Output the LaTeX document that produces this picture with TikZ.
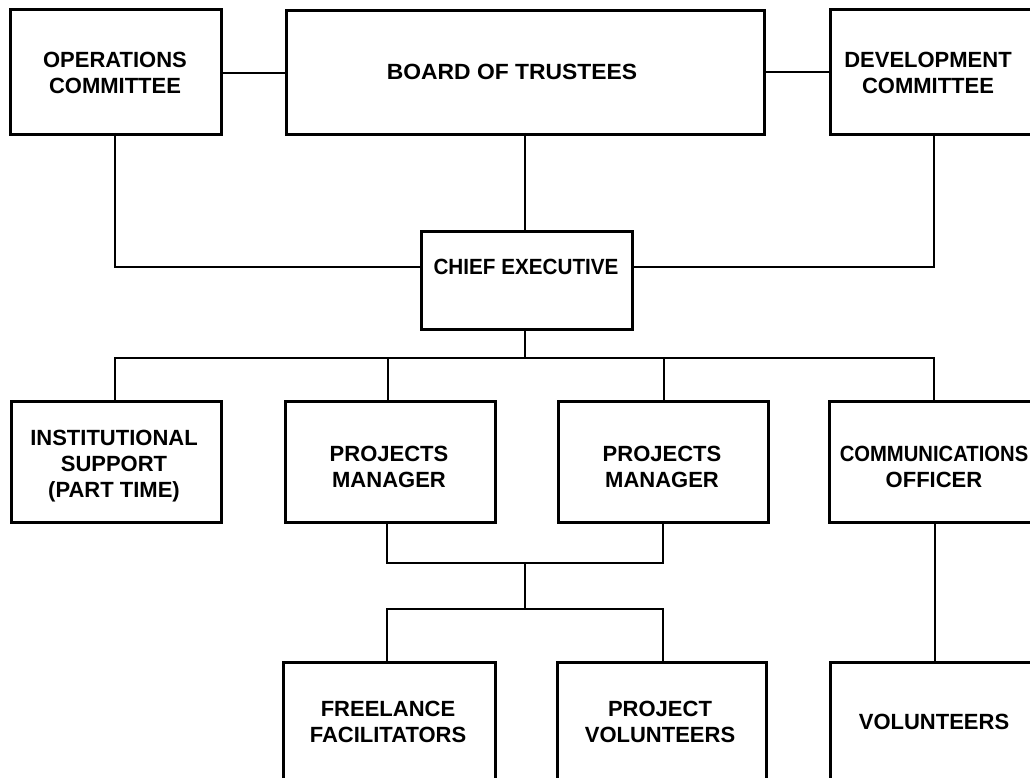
\documentclass[tikz,border=0pt]{standalone}
\usepackage{fontspec}
\setmainfont{Liberation Sans}
\begin{document}
\begin{tikzpicture}[x=1pt,y=-1pt,
  box/.style={draw=black, line width=2.6pt, rectangle, inner sep=0pt, anchor=north west},
  wire/.style={draw=black, line width=2.6pt},
  lbl/.style={font=\bfseries\fontsize{22}{26}\selectfont, align=center, inner sep=0pt, text=black}]
\useasboundingbox (0,0) rectangle (1030,778);
\fill[white] (0,0) rectangle (1030,778);
\clip (0,0) rectangle (1030,778);
% boxes
\node[box, minimum width=211pt, minimum height=125pt] (ops) at (9,8) {};
\node[box, minimum width=478pt, minimum height=124pt] (board) at (285,9) {};
\node[box, minimum width=211pt, minimum height=125pt] (dev) at (829,8) {};
\node[box, minimum width=211pt, minimum height=98pt] (ce) at (420,230) {};
\node[box, minimum width=210pt, minimum height=121pt] (inst) at (10,400) {};
\node[box, minimum width=210pt, minimum height=121pt] (pm1) at (284,400) {};
\node[box, minimum width=210pt, minimum height=121pt] (pm2) at (557,400) {};
\node[box, minimum width=212pt, minimum height=121pt] (comm) at (828,400) {};
\node[box, minimum width=212pt, minimum height=140pt] (ff) at (282,661) {};
\node[box, minimum width=209pt, minimum height=140pt] (pv) at (556,661) {};
\node[box, minimum width=211pt, minimum height=140pt] (vol) at (829,661) {};
% labels
\node[lbl] (ops-t) at (115,73) {OPERATIONS\\COMMITTEE};
\node[lbl] (board-t) at (512,72) {\scalebox{1.04}[1]{BOARD OF TRUSTEES}};
\node[lbl] (dev-t) at (928,73) {DEVELOPMENT\\COMMITTEE};
\node[lbl] (ce-t) at (526,267) {\scalebox{0.94}[1]{CHIEF EXECUTIVE}};
\node[lbl] (inst-t) at (114,466) {INSTITUTIONAL\\SUPPORT\\(PART TIME)};
\node[lbl] (pm1-t) at (389,467) {PROJECTS\\MANAGER};
\node[lbl] (pm2-t) at (662,467) {PROJECTS\\MANAGER};
\node[lbl] (comm-t) at (934,467) {\scalebox{0.92}[1]{COMMUNICATIONS}\\OFFICER};
\node[lbl] (ff-t) at (388,722) {FREELANCE\\FACILITATORS};
\node[lbl] (pv-t) at (660,722) {PROJECT\\VOLUNTEERS};
\node[lbl] (vol-t) at (934,722) {VOLUNTEERS};
% junction coordinates
\coordinate (ceL) at (420,267);
\coordinate (ceR) at (631,267);
\coordinate (bus) at (525,358);
\coordinate (pmj) at (525,563);
\coordinate (ffj) at (525,609);
% connectors
\draw[wire] (ops.east |- 0,73) -- (board.west |- 0,73);
\draw[wire] (board.east |- 0,72) -- (dev.west |- 0,72);
\draw[wire] (525,133) -- (525,230);
\draw[wire] (115,133) |- (ceL);
\draw[wire] (934,133) |- (ceR);
\draw[wire] (525,328) -- (bus);
\draw[wire] (115,400) |- (bus) -| (934,400);
\draw[wire] (bus) -| (388,400);
\draw[wire] (bus) -| (664,400);
\draw[wire] (387,521) |- (pmj) -| (663,521);
\draw[wire] (pmj) -- (ffj);
\draw[wire] (387,661) |- (ffj) -| (663,661);
\draw[wire] (935,521) -- (935,661);
\end{tikzpicture}
\end{document}
